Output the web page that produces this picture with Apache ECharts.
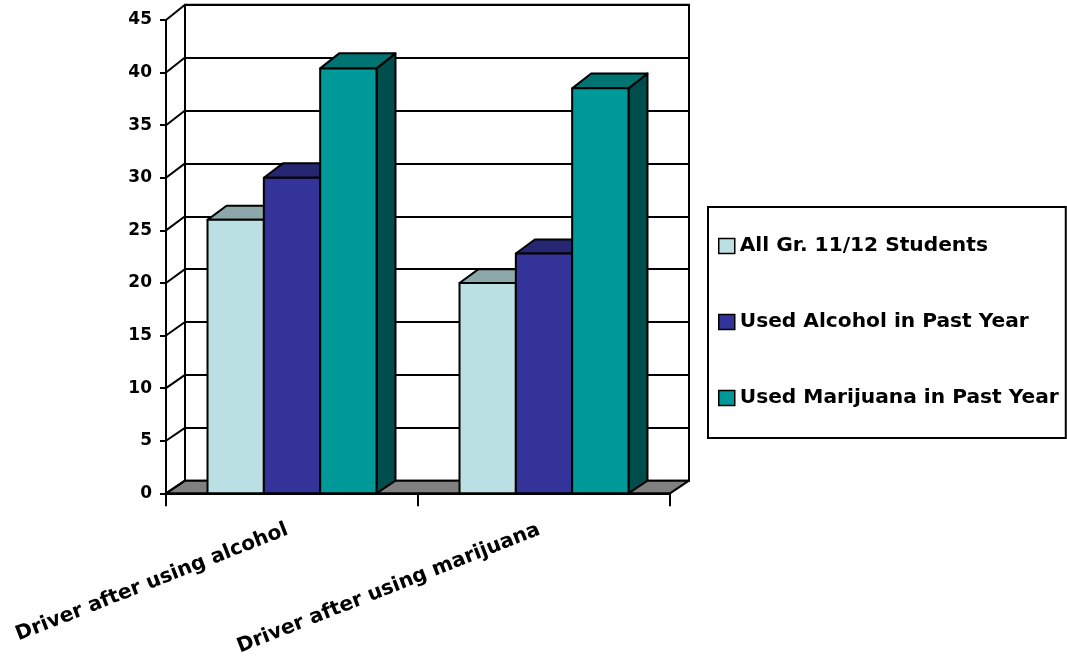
<!DOCTYPE html>
<html>
<head>
<meta charset="utf-8">
<title>Driving after substance use</title>
<script src="https://cdn.jsdelivr.net/npm/echarts@6/dist/echarts.min.js"></script>
<style>
  html, body { margin: 0; padding: 0; background: #ffffff; }
  #chart { width: 1067px; height: 657px; }
</style>
</head>
<body>
<div id="chart"></div>
<script>
// ---- data ----
const categories = ['Driver after using alcohol', 'Driver after using marijuana'];
const seriesNames = ['All Gr. 11/12 Students', 'Used Alcohol in Past Year', 'Used Marijuana in Past Year'];
const allStudents = [26, 20];
const usedAlcohol = [30, 22.8];
const usedMarijuana = [40.4, 38.5];
const yTicks = [0, 5, 10, 15, 20, 25, 30, 35, 40, 45];

// ---- styling ----
const FONT = 'DejaVu Sans';
// front / top / side face colours for each series
const faceColors = [
  { front: '#BBE0E3', top: '#8CA8AA', side: '#5E7072' },
  { front: '#333399', top: '#262673', side: '#1A1A4D' },
  { front: '#009999', top: '#007373', side: '#004D4D' }
];
const DEPTH_X = 19;                 // horizontal depth of the 3-D box
const DEPTH_Y0 = 12.6, DEPTH_Y1 = 15.3;  // vertical depth at value 0 and at the top of the scale
const Y_MAX = 45;
const BAR_FRACTION = 0.2235;        // width of one bar relative to a category band

function depthY(v) {
  return DEPTH_Y0 + (DEPTH_Y1 - DEPTH_Y0) * v / Y_MAX;
}

const edge = { stroke: '#000000', lineWidth: 2, lineJoin: 'round' };

// one 3-D column: right side, top and front face
function makeBarRenderer(seriesIndex) {
  return function (params, api) {
    const cat = api.value(0);
    const v = api.value(1);
    const base = api.coord([cat, 0]);
    const top = api.coord([cat, v]);
    const band = api.size([1, 0])[0];
    const barW = band * BAR_FRACTION;
    const x0 = base[0] - barW * 1.5 + seriesIndex * barW;
    const x1 = x0 + barW;
    const yT = top[1], yB = base[1];
    const dT = depthY(v), dB = depthY(0);
    const c = faceColors[seriesIndex];
    return {
      type: 'group',
      children: [
        { type: 'polygon', shape: { points: [[x1, yT], [x1 + DEPTH_X, yT - dT], [x1 + DEPTH_X, yB - dB], [x1, yB]] },
          style: Object.assign({ fill: c.side }, edge) },
        { type: 'polygon', shape: { points: [[x0, yT], [x1, yT], [x1 + DEPTH_X, yT - dT], [x0 + DEPTH_X, yT - dT]] },
          style: Object.assign({ fill: c.top }, edge) },
        { type: 'polygon', shape: { points: [[x0, yT], [x1, yT], [x1, yB], [x0, yB]] },
          style: Object.assign({ fill: c.front }, edge) }
      ]
    };
  };
}

const seriesValues = [allStudents, usedAlcohol, usedMarijuana];

const barSeries = seriesValues.map(function (vals, i) {
  return {
    type: 'custom',
    name: seriesNames[i],
    xAxisIndex: 0,
    yAxisIndex: 0,
    clip: false,
    z: 5,
    renderItem: makeBarRenderer(i),
    data: vals.map(function (v, c) { return [c, v]; })
  };
});

// grey floor under the columns
const floorSeries = {
  type: 'custom',
  name: 'floor',
  xAxisIndex: 0,
  yAxisIndex: 0,
  clip: false,
  z: 3,
  silent: true,
  renderItem: function (params, api) {
    const cs = params.coordSys;
    const y = api.coord([0, 0])[1];
    const d = depthY(0);
    const xl = cs.x, xr = cs.x + cs.width;
    return {
      type: 'polygon',
      shape: { points: [[xl, y], [xr, y], [xr + DEPTH_X, y - d], [xl + DEPTH_X, y - d]] },
      style: Object.assign({ fill: '#808080' }, edge)
    };
  },
  data: [[0, 0]]
};

// side-wall lines joining the front value axis to the back-wall gridlines
const wallSeries = {
  type: 'custom',
  name: 'wall',
  xAxisIndex: 0,
  yAxisIndex: 0,
  clip: false,
  z: 3,
  silent: true,
  renderItem: function (params, api) {
    const v = api.value(1);
    const x = params.coordSys.x;
    const y = api.coord([0, v])[1];
    return {
      type: 'line',
      shape: { x1: x, y1: y, x2: x + DEPTH_X, y2: y - depthY(v) },
      style: { stroke: '#000000', lineWidth: 2 }
    };
  },
  data: yTicks.map(function (v) { return [0, v]; })
};

const chart = echarts.init(document.getElementById('chart'), null, { renderer: 'canvas' });

chart.setOption({
  animation: false,
  backgroundColor: '#ffffff',
  grid: [
    // front plane: value axis, category axis and column faces
    { left: 166, top: 20, width: 504, height: 473.3, containLabel: false, outerBoundsMode: 'none' },
    // back wall with its gridlines
    { left: 185, top: 4.7, width: 504, height: 476, show: true, outerBoundsMode: 'none',
      borderColor: '#000000', borderWidth: 2, backgroundColor: '#ffffff', containLabel: false }
  ],
  xAxis: [
    {
      gridIndex: 0,
      type: 'category',
      data: categories,
      boundaryGap: true,
      axisLine: { show: true, lineStyle: { color: '#000000', width: 2 } },
      axisTick: { show: true, length: 13, lineStyle: { color: '#000000', width: 2 } },
      axisLabel: {
        rotate: 21.5,
        margin: 34,
        padding: [0, 5, 0, 0],
        interval: 0,
        color: '#000000',
        fontFamily: FONT,
        fontWeight: 'bold',
        fontSize: 20.2
      },
      splitLine: { show: false }
    },
    {
      gridIndex: 1,
      type: 'category',
      data: categories,
      show: false
    }
  ],
  yAxis: [
    {
      gridIndex: 0,
      type: 'value',
      min: 0,
      max: Y_MAX,
      interval: 5,
      axisLine: { show: true, lineStyle: { color: '#000000', width: 2 } },
      axisTick: { show: true, length: 6, lineStyle: { color: '#000000', width: 2 } },
      axisLabel: {
        margin: 14,
        color: '#000000',
        fontFamily: FONT,
        fontWeight: 'bold',
        fontSize: 17
      },
      splitLine: { show: false }
    },
    {
      gridIndex: 1,
      type: 'value',
      min: 0,
      max: Y_MAX,
      interval: 5,
      axisLine: { show: false },
      axisTick: { show: false },
      axisLabel: { show: false },
      splitLine: { show: true, lineStyle: { color: '#000000', width: 2 } }
    }
  ],
  legend: {
    orient: 'vertical',
    left: 708,
    top: 207,
    padding: [27, 7, 28, 10],
    itemGap: 52,
    itemWidth: 16,
    itemHeight: 15,
    borderColor: '#000000',
    borderWidth: 2,
    backgroundColor: '#ffffff',
    icon: 'rect',
    textStyle: {
      color: '#000000',
      fontFamily: FONT,
      fontWeight: 'bold',
      fontSize: 20.2,
      lineHeight: 24
    },
    data: seriesNames.map(function (n, i) {
      return { name: n, itemStyle: { color: faceColors[i].front, borderColor: '#000000', borderWidth: 1.5 } };
    })
  },
  series: [floorSeries, wallSeries].concat(barSeries)
});
</script>
</body>
</html>
